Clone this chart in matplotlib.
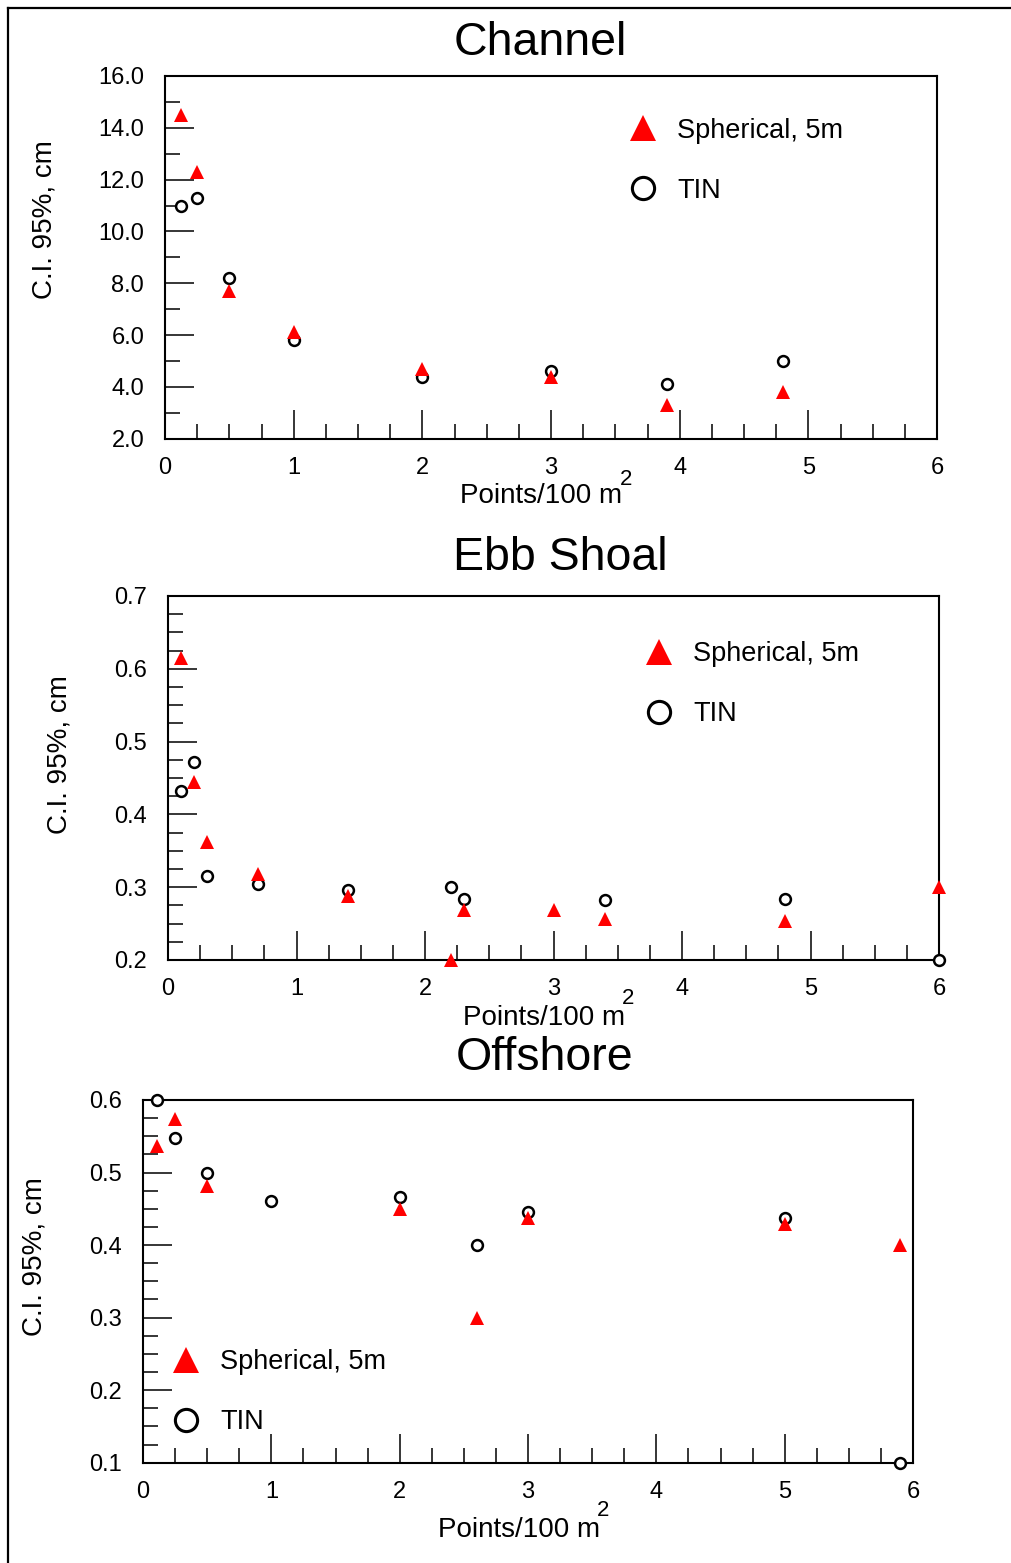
import matplotlib

matplotlib.use("Agg")
import matplotlib.pyplot as plt
from matplotlib.lines import Line2D
from matplotlib.ticker import MultipleLocator, FormatStrFormatter

plt.rcParams["font.family"] = ["Liberation Sans", "DejaVu Sans"]

# ── data ──────────────────────────────────────────
# Channel
ch_sph_x = [0.125, 0.25, 0.5, 1.0, 2.0, 3.0, 3.9, 4.8]
ch_sph_y = [14.5, 12.3, 7.7, 6.1, 4.7, 4.4, 3.3, 3.8]
ch_tin_x = [0.125, 0.25, 0.5, 1.0, 2.0, 3.0, 3.9, 4.8]
ch_tin_y = [11.0, 11.3, 8.2, 5.8, 4.4, 4.6, 4.1, 5.0]

# Ebb Shoal
eb_sph_x = [0.1, 0.2, 0.3, 0.7, 1.4, 2.2, 2.3, 3.0, 3.4, 4.8, 6.0]
eb_sph_y = [0.615, 0.444, 0.362, 0.318, 0.288, 0.2, 0.269, 0.269, 0.256, 0.254, 0.3]
eb_tin_x = [0.1, 0.2, 0.3, 0.7, 1.4, 2.2, 2.3, 3.4, 4.8, 6.0]
eb_tin_y = [0.432, 0.472, 0.315, 0.304, 0.296, 0.300, 0.284, 0.282, 0.284, 0.2]

# Offshore
of_sph_x = [0.11, 0.25, 0.5, 2.0, 2.6, 3.0, 5.0, 5.9]
of_sph_y = [0.537, 0.574, 0.481, 0.45, 0.30, 0.438, 0.429, 0.40]
of_tin_x = [0.11, 0.25, 0.5, 1.0, 2.0, 2.6, 3.0, 5.0, 5.9]
of_tin_y = [0.60, 0.548, 0.50, 0.461, 0.466, 0.40, 0.445, 0.437, 0.10]

W, H = 1011, 1563
fig = plt.figure(figsize=(W / 100, H / 100), dpi=100)


def px_axes(l, t, r, b):
    return fig.add_axes([l / W, 1 - b / H, (r - l) / W, (b - t) / H])


def fx(x):
    return x / W


def fy(y):
    return 1 - y / H


LBL = 20
TICK = 17


def panel(box, sx, sy, tx, ty, ylim, ymaj, ymin, leg_anchor,
          title, title_xy, ylab_xy, xlab_xy, sup_xy):
    ax = px_axes(*box)
    ax.plot(tx, ty, "o", ms=7.8, mfc="white", mec="black", mew=1.8,
            clip_on=False, zorder=3)
    ax.plot(sx, sy, "^", ms=10, color="#ff0000", mew=0,
            clip_on=False, zorder=4)
    ax.set_xlim(0, 6)
    ax.set_ylim(*ylim)
    ax.xaxis.set_major_locator(MultipleLocator(1))
    ax.xaxis.set_minor_locator(MultipleLocator(0.25))
    ax.yaxis.set_major_locator(MultipleLocator(ymaj))
    ax.yaxis.set_minor_locator(MultipleLocator(ymin))
    ax.yaxis.set_major_formatter(FormatStrFormatter("%.1f"))
    ax.tick_params(which="both", direction="in", top=False, right=False,
                   labelsize=TICK, width=1.1, color="black")
    ax.tick_params(axis="y", which="major", length=21, pad=15)
    ax.tick_params(axis="y", which="minor", length=10.5)
    ax.tick_params(axis="x", which="major", length=21, pad=13)
    ax.tick_params(axis="x", which="minor", length=10.5)
    for sp in ax.spines.values():
        sp.set_linewidth(1.5)

    handles = [
        Line2D([], [], ls="none", marker="^", ms=19, color="#ff0000", mew=0),
        Line2D([], [], ls="none", marker="o", ms=16, mfc="white",
               mec="black", mew=2.2),
    ]
    ax.legend(handles, ["Spherical, 5m", "TIN"], loc="upper left",
              bbox_to_anchor=leg_anchor, frameon=False, fontsize=19.5,
              handlelength=1.0, handletextpad=0.77, labelspacing=1.25,
              borderpad=0, borderaxespad=0, numpoints=1)

    fig.text(fx(title_xy[0]), fy(title_xy[1]), title, fontsize=33.5,
             ha="center", va="baseline")
    fig.text(fx(ylab_xy[0]), fy(ylab_xy[1]), "C.I. 95%, cm", fontsize=LBL,
             rotation=90, ha="center", va="center")
    fig.text(fx(xlab_xy[0]), fy(xlab_xy[1]), "Points/100 m", fontsize=LBL,
             ha="center", va="baseline")
    fig.text(fx(sup_xy[0]), fy(sup_xy[1]), "2", fontsize=LBL * 0.8,
             ha="center", va="baseline")
    return ax


panel((165, 76, 937, 438.7), ch_sph_x, ch_sph_y, ch_tin_x, ch_tin_y,
      (2, 16), 2, 1, (0.601, 0.885),
      "Channel", (540, 55), (45, 220), (541, 503), (626, 485))

panel((168, 596, 939, 960), eb_sph_x, eb_sph_y, eb_tin_x, eb_tin_y,
      (0.2, 0.7), 0.1, 0.025, (0.619, 0.875),
      "Ebb Shoal", (560, 570), (60, 755), (544, 1025), (628, 1004))

panel((143, 1100, 913, 1462.7), of_sph_x, of_sph_y, of_tin_x, of_tin_y,
      (0.1, 0.6), 0.1, 0.025, (0.038, 0.313),
      "Offshore", (545, 1070), (35, 1257), (519, 1537), (603, 1516))

# outer frame (left and top edges)
fig.add_artist(Line2D([fx(8), fx(8)], [fy(8), 0], color="black", lw=1.6))
fig.add_artist(Line2D([fx(8), 1], [fy(8), fy(8)], color="black", lw=1.6))

fig.savefig("out.png", dpi=100)
